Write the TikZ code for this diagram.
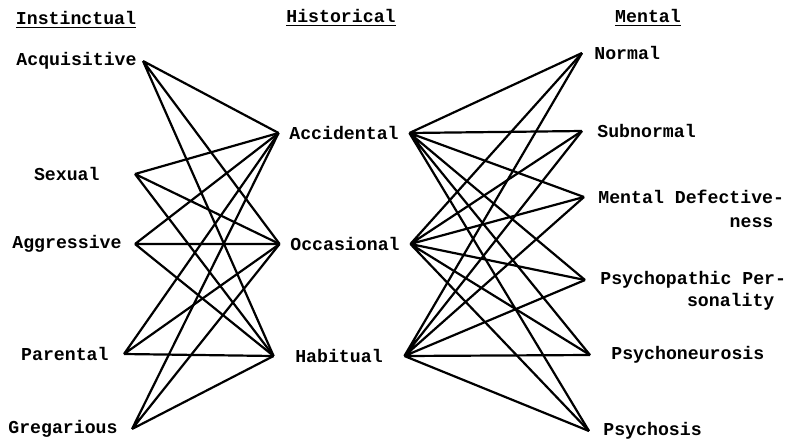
\documentclass[tikz,border=0pt]{standalone}
\usepackage{fontspec}
\setmainfont{Liberation Mono}
\usepackage{tikz}

\begin{document}
\begin{tikzpicture}[x=0.5pt,y=-0.5pt,
  every node/.style={font=\fontsize{9.1}{11}\selectfont\bfseries,inner ysep=2.5pt},
  lft/.style={anchor=east,inner xsep=7pt},
  mid/.style={minimum width=65pt,inner xsep=0pt},
  rgt/.style={anchor=west,inner xsep=7pt},
  link/.style={line width=1.1pt}]
\useasboundingbox (0,0) rectangle (787,440);
% column heads
\node (hinst) at (76,20) {\underline{Instinctual}};
\node (hhist) at (341,18) {\underline{Historical}};
\node (hment) at (648,18) {\underline{Mental}};
% instinctual
\node[lft,inner xsep=3pt] (acq) at (143,61) {Acquisitive};
\node[lft,inner xsep=17.5pt] (sex) at (135,174) {Sexual};
\node[lft,inner xsep=6.5pt] (agg) at (135,244) {Aggressive};
\node[lft,inner xsep=7.5pt] (par) at (124,354) {Parental};
\node[lft] (gre) at (132,429) {Gregarious};
% historical
\node[mid] (acc) at (344,133) {Accidental};
\node[mid] (occ) at (345,244) {Occasional};
\node[mid] (hab) at (339,356) {Habitual};
% mental
\node[rgt,inner xsep=6pt] (nor) at (582,53) {Normal};
\node[rgt,inner xsep=7.5pt] (sub) at (582,131) {Subnormal};
\node[rgt] (mdef) at (584,197) {Mental Defective-};
\node[anchor=north east] (mdefb) at ([xshift=-9pt,yshift=-1.5pt]mdef.south east) {ness};
\node[rgt,inner xsep=7.5pt] (psyp) at (585,280) {Psychopathic Per-};
\node[anchor=north east] (psypb) at ([xshift=-10pt,yshift=3pt]psyp.south east) {sonality};
\node[rgt,inner xsep=10.5pt] (psyn) at (590,355) {Psychoneurosis};
\node[rgt] (psyc) at (589,431) {Psychosis};
% instinctual -- historical
\draw[link] (acq.east) -- (acc.west) (acq.east) -- (occ.west) (acq.east) -- (hab.west);
\draw[link] (sex.east) -- (acc.west) (sex.east) -- (occ.west) (sex.east) -- (hab.west);
\draw[link] (agg.east) -- (acc.west) (agg.east) -- (occ.west) (agg.east) -- (hab.west);
\draw[link] (par.east) -- (acc.west) (par.east) -- (occ.west) (par.east) -- (hab.west);
\draw[link] (gre.east) -- (acc.west) (gre.east) -- (occ.west) (gre.east) -- (hab.west);
% historical -- mental
\draw[link] (acc.east) -- (nor.west) (acc.east) -- (sub.west) (acc.east) -- (mdef.west)
  (acc.east) -- (psyp.west) (acc.east) -- (psyn.west) (acc.east) -- (psyc.west);
\draw[link] (occ.east) -- (nor.west) (occ.east) -- (sub.west) (occ.east) -- (mdef.west)
  (occ.east) -- (psyp.west) (occ.east) -- (psyn.west) (occ.east) -- (psyc.west);
\draw[link] (hab.east) -- (nor.west) (hab.east) -- (sub.west) (hab.east) -- (mdef.west)
  (hab.east) -- (psyp.west) (hab.east) -- (psyn.west) (hab.east) -- (psyc.west);
\end{tikzpicture}
\end{document}
